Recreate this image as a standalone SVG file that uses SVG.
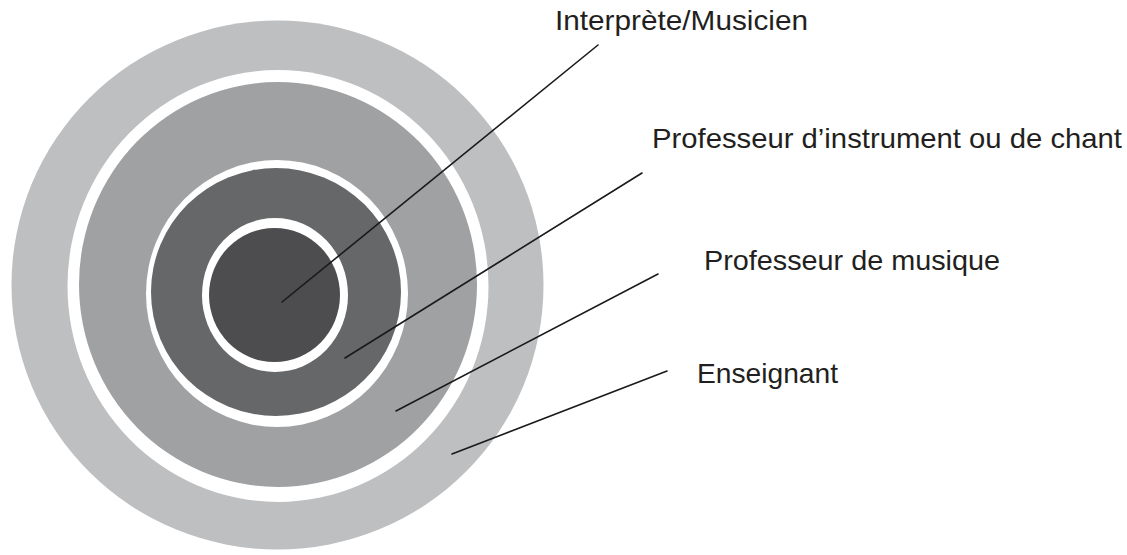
<svg xmlns="http://www.w3.org/2000/svg" width="1127" height="555" viewBox="0 0 1127 555">
<style>
.lbl{font-family:"Liberation Sans",Arial,sans-serif;font-size:28px;fill:#231f20}
.gap{fill:#ffffff}
.conn line{stroke:#1a1a1a;stroke-width:1.6;stroke-linecap:round}
</style>
<rect width="1127" height="555" fill="#ffffff"/>
<g id="ring-enseignant">
<ellipse cx="277.5" cy="285" rx="266" ry="264.5" fill="#bebfc1"/>
<ellipse class="gap" cx="278" cy="286" rx="210.5" ry="216"/>
</g>
<g id="ring-professeur-musique">
<ellipse cx="278" cy="284.5" rx="199" ry="202.5" fill="#a0a1a3"/>
<ellipse class="gap" cx="277" cy="293.5" rx="131" ry="133.5"/>
</g>
<g id="ring-professeur-instrument">
<ellipse cx="276" cy="292" rx="125" ry="124" fill="#666769"/>
<ellipse class="gap" cx="275" cy="295" rx="73" ry="77"/>
</g>
<g id="core-interprete">
<ellipse cx="274.5" cy="295" rx="65.5" ry="67" fill="#4d4d4f"/>
</g>
<g id="connectors" class="conn">
<line x1="282" y1="302" x2="598" y2="45"/>
<line x1="345" y1="358" x2="642" y2="173"/>
<line x1="396" y1="411" x2="658" y2="274"/>
<line x1="452" y1="454" x2="667" y2="371"/>
</g>
<g id="label-interprete"><text class="lbl" x="555" y="30" textLength="253" lengthAdjust="spacingAndGlyphs">Interprète/Musicien</text></g>
<g id="label-prof-instrument"><text class="lbl" x="652" y="148" textLength="470" lengthAdjust="spacingAndGlyphs">Professeur d’instrument ou de chant</text></g>
<g id="label-prof-musique"><text class="lbl" x="704" y="270" textLength="296" lengthAdjust="spacingAndGlyphs">Professeur de musique</text></g>
<g id="label-enseignant"><text class="lbl" x="697" y="383" textLength="141" lengthAdjust="spacingAndGlyphs">Enseignant</text></g>
</svg>
